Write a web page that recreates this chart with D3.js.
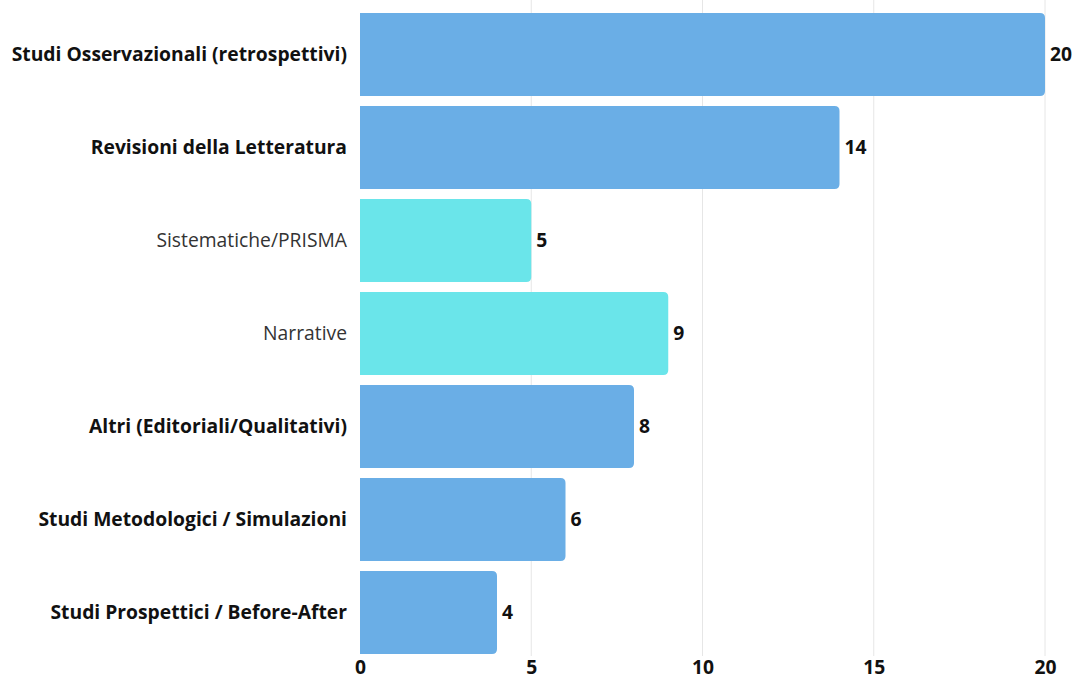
<!DOCTYPE html>
<html>
<head>
<meta charset="utf-8">
<script src="https://cdn.jsdelivr.net/npm/d3@7"></script>
<style>
  html, body { margin: 0; padding: 0; background: #ffffff; }
  svg { display: block; font-family: "Open Sans", sans-serif; }
</style>
</head>
<body>
<svg id="chart" width="1075" height="679"></svg>
<script>
// Study categories, counts and whether the row is a sub-category
const categories = [
  "Studi Osservazionali (retrospettivi)",
  "Revisioni della Letteratura",
  "Sistematiche/PRISMA",
  "Narrative",
  "Altri (Editoriali/Qualitativi)",
  "Studi Metodologici / Simulazioni",
  "Studi Prospettici / Before-After"
];
const counts = [20, 14, 5, 9, 8, 6, 4];
const isSub = [false, false, true, true, false, false, false];
const xTicks = [0, 5, 10, 15, 20];

const svg = d3.select("#chart");
const x0 = 360, x1 = 1045;
const fs = 19.3;

const x = d3.scaleLinear().domain([0, 20]).range([x0, x1]);
const y = d3.scaleBand()
  .domain(categories)
  .range([8, 659])
  .paddingInner(10 / 93)
  .paddingOuter(5 / 93);

// vertical gridlines
svg.append("g").selectAll("line")
  .data(xTicks.filter(d => d > 0))
  .join("line")
  .attr("x1", d => x(d)).attr("x2", d => x(d))
  .attr("y1", 0).attr("y2", 656)
  .attr("stroke", "#e6e6e6").attr("stroke-width", 1);

// bars: square on the left, rounded on the right
const r = 5;
function barPath(v, cat) {
  const xl = x(0), xr = x(v), yt = y(cat), h = y.bandwidth();
  return `M${xl},${yt} H${xr - r} Q${xr},${yt} ${xr},${yt + r} V${yt + h - r} Q${xr},${yt + h} ${xr - r},${yt + h} H${xl} Z`;
}
svg.append("g").selectAll("path")
  .data(categories)
  .join("path")
  .attr("d", (c, i) => barPath(counts[i], c))
  .attr("fill", (c, i) => isSub[i] ? "#6ae5ea" : "#6aaee6");

// value labels
svg.append("g").selectAll("text")
  .data(categories)
  .join("text")
  .attr("x", (c, i) => x(counts[i]) + 5)
  .attr("y", c => y(c) + y.bandwidth() / 2)
  .attr("dy", "0.35em")
  .attr("font-size", fs)
  .attr("font-weight", 700)
  .attr("fill", "#111")
  .text((c, i) => counts[i]);

// category axis
const yAxis = d3.axisLeft(y).tickSize(0).tickPadding(13);
const gy = svg.append("g").attr("transform", `translate(${x0},0)`).call(yAxis);
gy.select(".domain").remove();
gy.selectAll("text")
  .attr("font-family", "Open Sans, sans-serif")
  .attr("font-size", fs)
  .attr("font-weight", (c, i) => isSub[i] ? 400 : 700)
  .attr("fill", (c, i) => isSub[i] ? "#333" : "#111");

// value axis
const xAxis = d3.axisBottom(x).tickValues(xTicks).tickSize(0).tickPadding(4);
const gx = svg.append("g").attr("transform", "translate(0,656)").call(xAxis);
gx.select(".domain").remove();
gx.selectAll("text")
  .attr("font-family", "Open Sans, sans-serif")
  .attr("font-size", fs)
  .attr("font-weight", 700)
  .attr("fill", "#111");
</script>
</body>
</html>
